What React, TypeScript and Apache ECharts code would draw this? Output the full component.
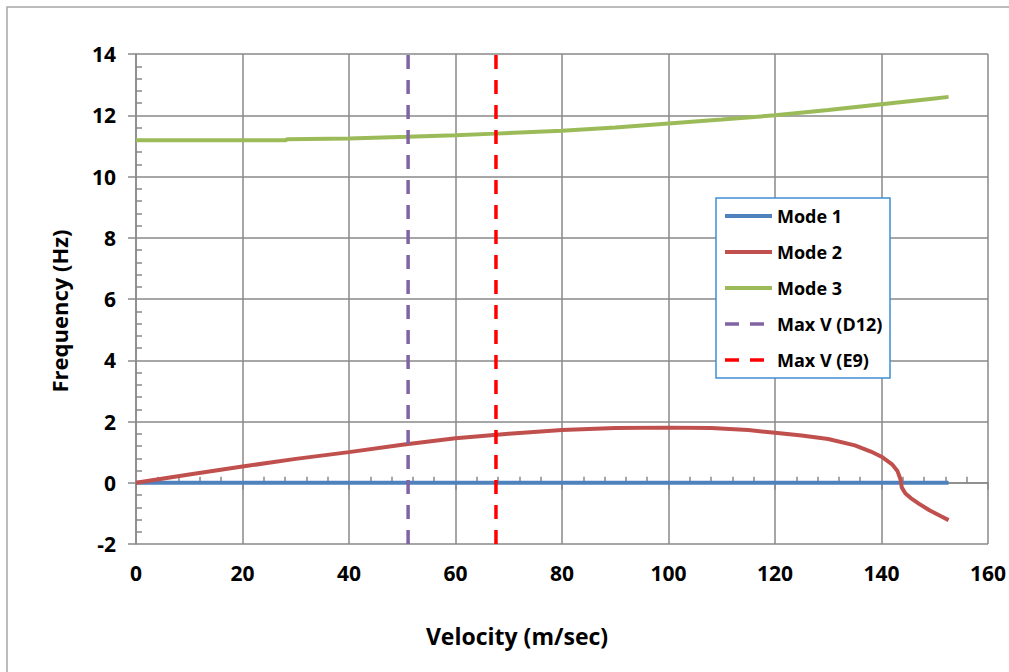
import React, { useEffect, useRef } from "react";
import * as echarts from "echarts";

const FONT = "'Open Sans', 'Liberation Sans', sans-serif";

const mode1Velocity = [0, 152.6];
const mode1Freq = [0, 0];

const mode2Velocity = [0, 10, 20, 30, 40, 50, 60, 70, 80, 90, 100, 108, 115, 120, 125, 130, 135, 138, 140, 142, 143, 143.6, 143.8, 144.5, 145.5, 147, 149, 151, 152.6];
const mode2Freq = [0, 0.27, 0.53, 0.78, 1.0, 1.24, 1.45, 1.6, 1.72, 1.79, 1.8, 1.79, 1.72, 1.63, 1.54, 1.43, 1.22, 1.02, 0.85, 0.6, 0.38, 0.1, -0.15, -0.35, -0.5, -0.68, -0.9, -1.08, -1.22];

const mode3Velocity = [0, 28, 28.5, 40, 51, 60, 67.5, 80, 90, 100, 110, 120, 130, 140, 150, 152.6];
const mode3Freq = [11.18, 11.18, 11.22, 11.24, 11.3, 11.35, 11.4, 11.49, 11.6, 11.73, 11.86, 12.0, 12.17, 12.36, 12.55, 12.6];

const maxVD12 = 51.1;
const maxVE9 = 67.6;
const freqRange = [-2, 14];

const seriesNames = ["Mode 1", "Mode 2", "Mode 3", "Max V (D12)", "Max V (E9)"];
const seriesColors = ["#4F81BD", "#C0504D", "#9BBB59", "#8064A2", "#FF0000"];

const zip = (xs: number[], ys: number[]) => xs.map((x, i) => [x, ys[i]]);

export default function App() {
  const ref = useRef<HTMLDivElement>(null);
  useEffect(() => {
    if (!ref.current) return;
    const chart = echarts.init(ref.current, undefined, { renderer: "svg" });
    const gridColor = "#898989";
    const labelStyle = { color: "#000", fontFamily: FONT, fontWeight: "bold" as const, fontSize: 21 };
    const solid = (i: number, data: number[][]) => ({
      name: seriesNames[i],
      type: "line",
      data,
      showSymbol: false,
      symbol: "none",
      lineStyle: { color: seriesColors[i], width: 4 },
      itemStyle: { color: seriesColors[i] },
      z: 3,
    });
    const dashed = (i: number, v: number) => ({
      name: seriesNames[i],
      type: "line",
      data: [[v, freqRange[0]], [v, freqRange[1]]],
      showSymbol: false,
      symbol: "none",
      lineStyle: { color: seriesColors[i], width: 3.5, type: [14, 11] },
      itemStyle: { color: seriesColors[i] },
      z: 4,
    });
    chart.setOption({
      animation: false,
      backgroundColor: "#fff",
      grid: { left: 136, top: 54, right: 21, bottom: 128 },
      xAxis: [
        {
          type: "value",
          min: 0,
          max: 160,
          interval: 20,
          axisLine: { show: true, lineStyle: { color: gridColor, width: 1.5 } },
          axisTick: { show: true, inside: false, length: 7, lineStyle: { color: gridColor, width: 1.5 } },
          minorTick: { show: false },
          splitLine: { show: true, lineStyle: { color: gridColor, width: 1.5 } },
          axisLabel: { ...labelStyle, margin: 18 },
        },
        {
          type: "value",
          position: "bottom",
          min: 0,
          max: 160,
          interval: 20,
          axisLine: { show: false },
          axisTick: { show: false, inside: true },
          minorTick: { show: true, splitNumber: 5, length: 6, lineStyle: { color: gridColor, width: 1.5 } },
          splitLine: { show: false },
          axisLabel: { show: false },
        },
      ],
      yAxis: [
        {
          type: "value",
          min: freqRange[0],
          max: freqRange[1],
          interval: 2,
          axisLine: { show: true, lineStyle: { color: gridColor, width: 1.5 } },
          axisTick: { show: true, inside: false, length: 8, lineStyle: { color: gridColor, width: 1.5 } },
          minorTick: { show: false },
          splitLine: { show: true, lineStyle: { color: gridColor, width: 1.5 } },
          axisLabel: { ...labelStyle, margin: 20 },
        },
        {
          type: "value",
          position: "left",
          min: freqRange[0],
          max: freqRange[1],
          interval: 2,
          axisLine: { show: false },
          axisTick: { show: false, inside: true },
          minorTick: { show: true, splitNumber: 5, length: 6, lineStyle: { color: gridColor, width: 1.5 } },
          splitLine: { show: false },
          axisLabel: { show: false },
        },
      ],
      legend: {
        orient: "vertical",
        left: 723,
        top: 207,
        padding: 0,
        itemWidth: 47,
        itemHeight: 18,
        itemGap: 18,
        z: 10,
        data: seriesNames,
        lineStyle: { width: "inherit" },
        itemStyle: { color: "rgba(0,0,0,0)", opacity: 0, borderWidth: 0 },
        textStyle: { color: "#000", fontFamily: FONT, fontWeight: "bold", fontSize: 18, lineHeight: 18 },
      },
      graphic: [
        {
          type: "rect",
          z: 8,
          shape: { x: 7, y: 7, width: 1020, height: 680 },
          style: { fill: "none", stroke: "#A6A6A6", lineWidth: 1.5 },
        },
        {
          type: "rect",
          z: 8,
          shape: { x: 716, y: 198, width: 174, height: 180 },
          style: { fill: "#fff", stroke: "#3F8FD2", lineWidth: 1.5 },
        },
        {
          type: "text",
          z: 9,
          x: 517,
          y: 636,
          style: { text: "Velocity (m/sec)", fill: "#000", font: `bold 23px ${FONT}`, textAlign: "center", textVerticalAlign: "middle" },
        },
        {
          type: "text",
          z: 9,
          x: 59,
          y: 311,
          rotation: Math.PI / 2,
          style: { text: "Frequency (Hz)", fill: "#000", font: `bold 22px ${FONT}`, textAlign: "center", textVerticalAlign: "middle" },
        },
      ],
      series: [
        solid(0, zip(mode1Velocity, mode1Freq)),
        solid(1, zip(mode2Velocity, mode2Freq)),
        solid(2, zip(mode3Velocity, mode3Freq)),
        dashed(3, maxVD12),
        dashed(4, maxVE9),
      ],
    });
    return () => chart.dispose();
  }, []);
  return <div ref={ref} style={{ position: "fixed", left: 0, top: 0, width: 1009, height: 672 }} />;
}
